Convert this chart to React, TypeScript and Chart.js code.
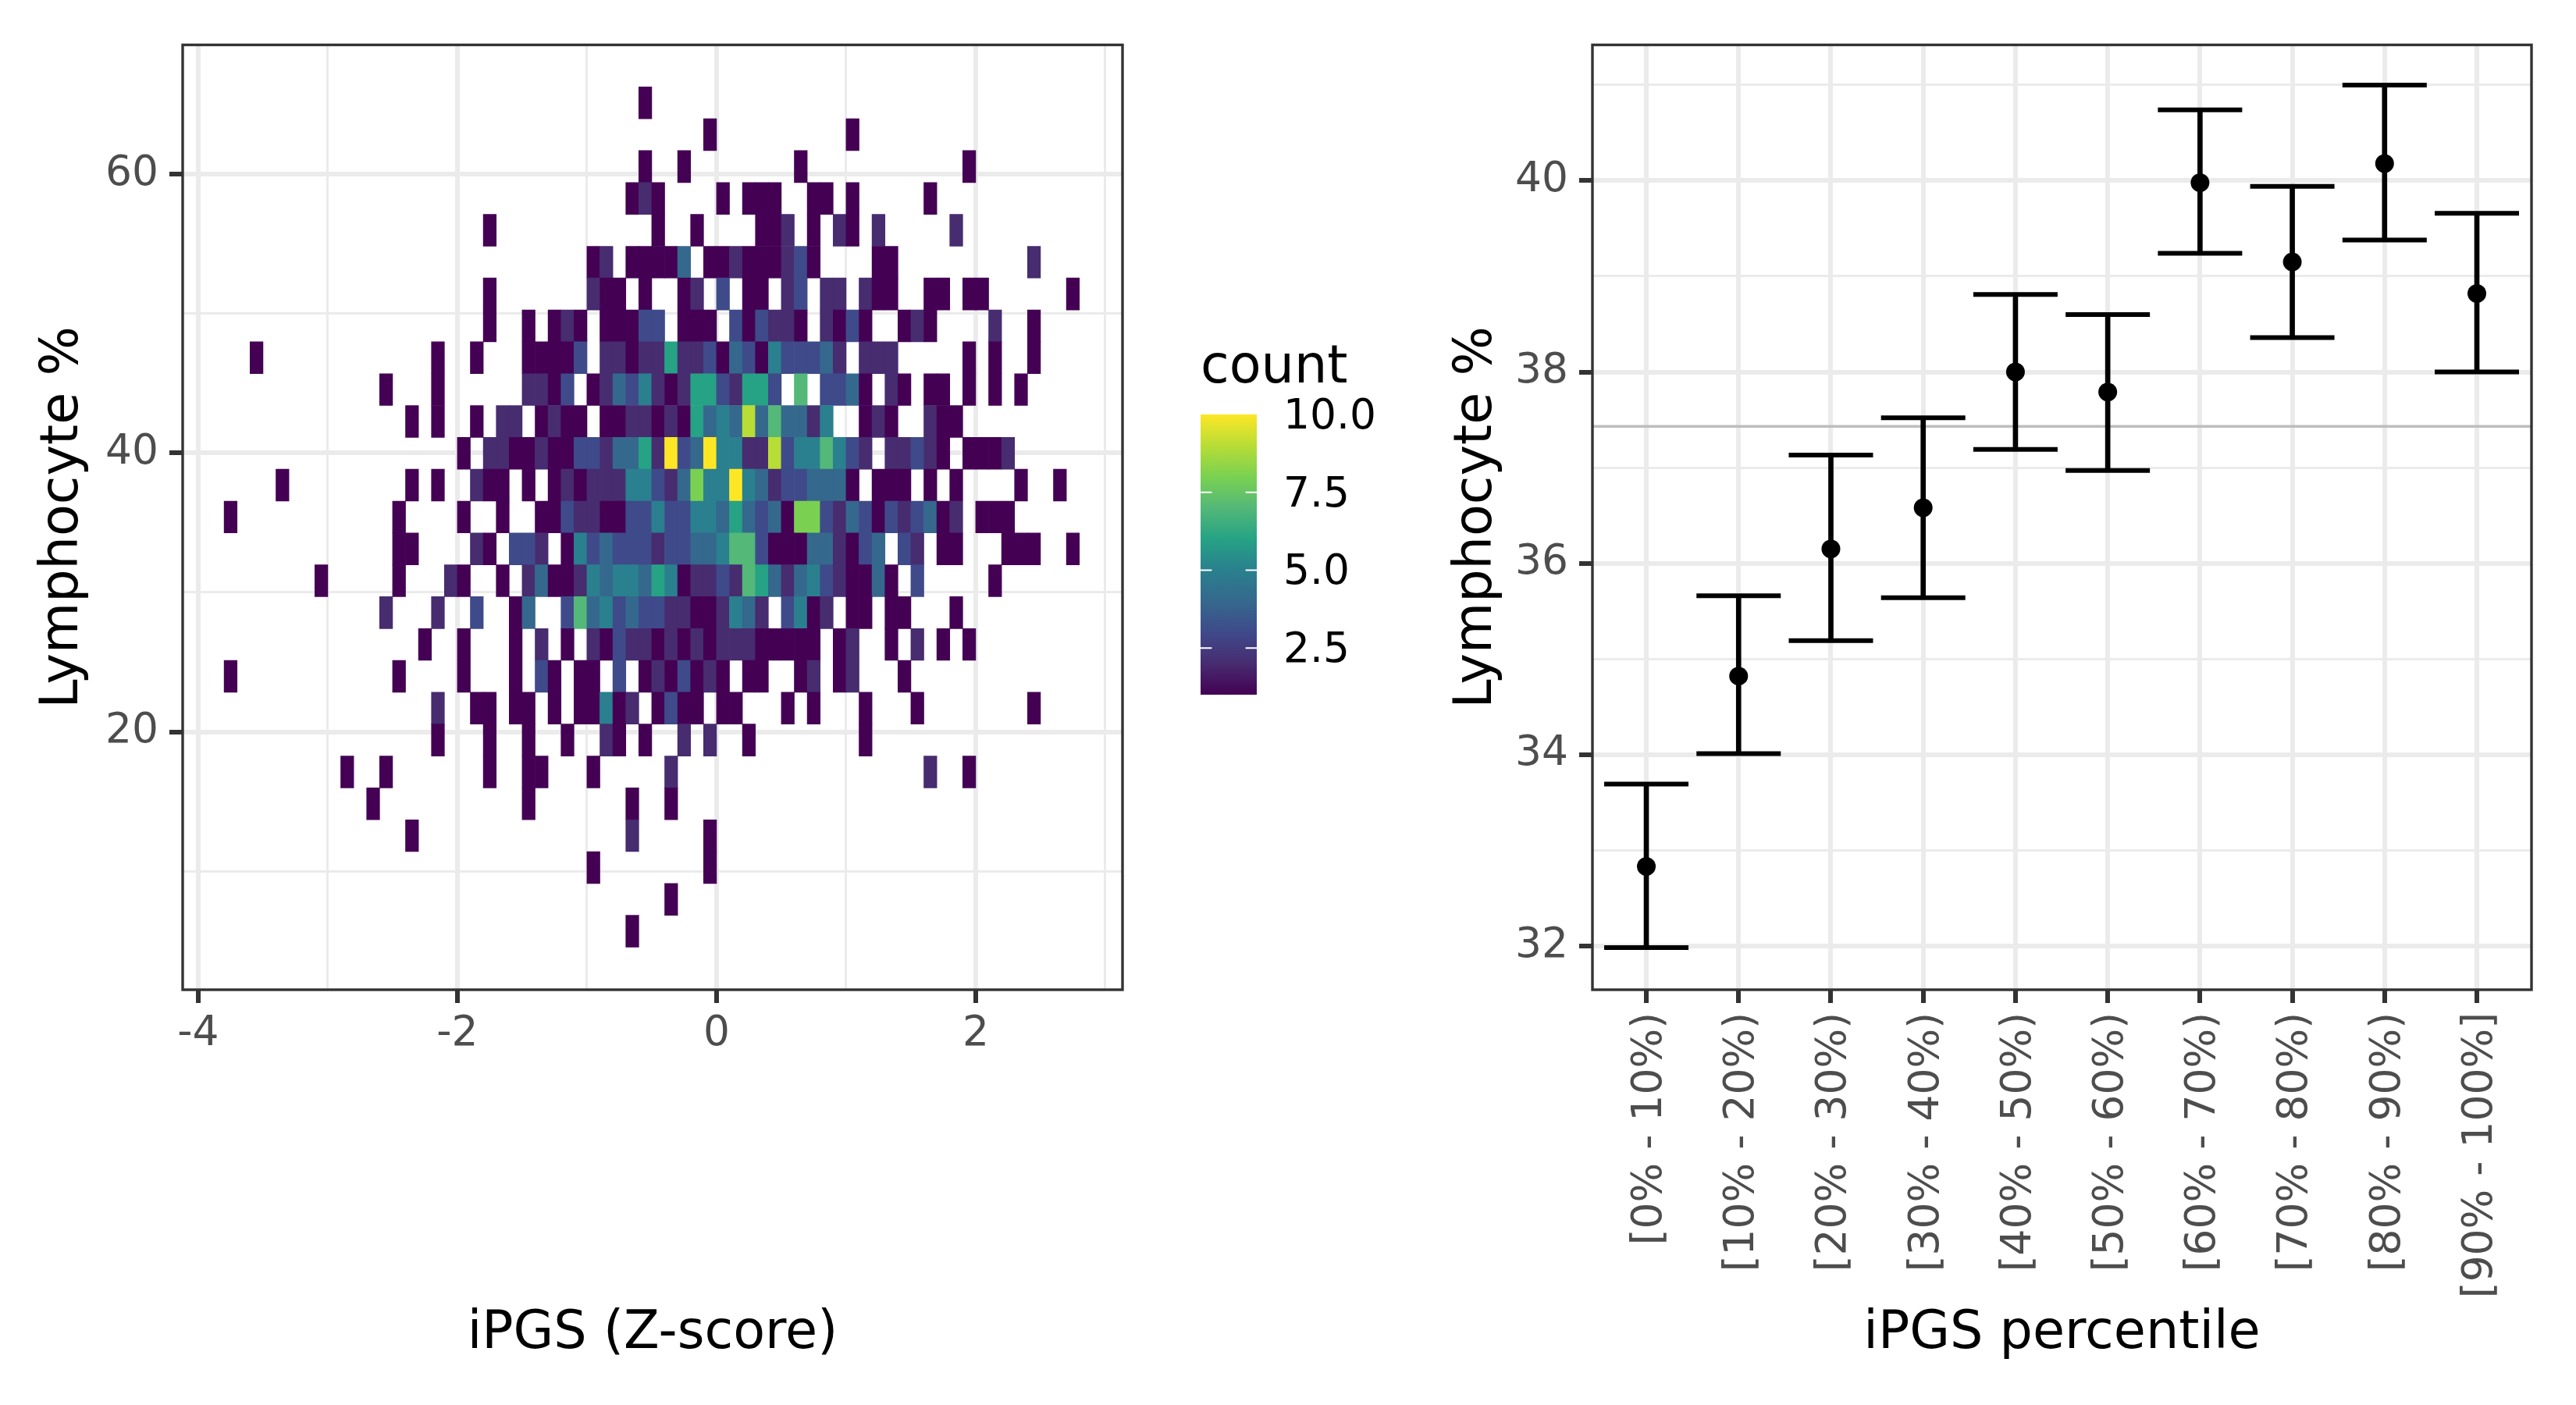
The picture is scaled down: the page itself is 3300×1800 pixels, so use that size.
import React, { useEffect, useRef } from "react";
import { Chart, registerables } from "chart.js";

Chart.register(...registerables);

const FONT = "'DejaVu Sans'";
const TITLE_SIZE = 66.8;
const TICK_SIZE = 53.4;

// ---------- Left panel data ----------
// Bin edges on the Lymphocyte % axis, top to bottom
const yBinEdges = [66.25, 63.96, 61.68, 59.39, 57.11, 54.82, 52.54, 50.25, 47.97, 45.68, 43.4, 41.11, 38.83, 36.54, 34.26, 31.97, 29.69, 27.4, 25.12, 22.83, 20.55, 18.26, 15.98, 13.69, 11.41, 9.12, 6.84, 4.55];
// Each row: [x bin in tenths of a Z-score, count]
const heatRows: number[][][] = [
  [[-6,1]],
  [[-1,1],[10,1]],
  [[-6,1],[-3,1],[6,1],[19,1]],
  [[-7,1],[-6,2],[-5,1],[0,1],[2,1],[3,1],[4,1],[7,1],[8,1],[10,1],[16,1]],
  [[-18,1],[-5,1],[-2,1],[3,1],[4,1],[5,2],[7,1],[9,2],[10,1],[12,2],[18,2]],
  [[-10,1],[-9,2],[-7,1],[-6,1],[-5,1],[-4,1],[-3,4],[-1,1],[0,1],[1,2],[2,1],[3,1],[4,1],[5,2],[6,3],[7,1],[12,1],[13,1],[24,2]],
  [[-18,1],[-10,2],[-9,1],[-8,1],[-6,1],[-3,1],[-2,2],[0,3],[2,1],[3,1],[5,2],[6,3],[8,2],[9,2],[11,2],[12,1],[13,1],[16,1],[17,1],[19,1],[20,1],[27,1]],
  [[-18,1],[-15,1],[-13,1],[-12,2],[-11,1],[-9,1],[-8,1],[-7,1],[-6,3],[-5,3],[-3,1],[-2,1],[-1,1],[1,3],[2,1],[3,3],[4,2],[5,2],[6,1],[8,2],[9,1],[10,3],[11,1],[14,1],[15,2],[16,1],[21,2],[24,1]],
  [[-36,1],[-22,1],[-19,1],[-15,1],[-14,1],[-13,1],[-12,1],[-11,3],[-9,2],[-8,2],[-7,1],[-6,2],[-5,2],[-4,6],[-3,2],[-2,2],[-1,3],[0,1],[1,4],[2,3],[3,1],[4,5],[5,3],[6,3],[7,3],[8,4],[9,2],[11,2],[12,2],[13,2],[19,1],[21,1],[24,1]],
  [[-26,1],[-22,1],[-15,2],[-14,2],[-13,1],[-12,3],[-10,1],[-9,2],[-8,4],[-7,3],[-6,5],[-5,2],[-4,1],[-3,2],[-2,6],[-1,6],[0,3],[1,2],[2,6],[3,6],[4,3],[6,7],[8,3],[9,3],[10,4],[11,1],[13,2],[14,1],[16,1],[17,1],[19,1],[21,1],[23,1]],
  [[-24,1],[-22,1],[-19,1],[-17,2],[-16,2],[-14,1],[-13,2],[-12,1],[-11,1],[-9,1],[-8,1],[-7,2],[-6,2],[-5,1],[-4,2],[-3,1],[-2,6],[-1,4],[0,5],[1,4],[2,9],[3,4],[4,7],[5,4],[6,4],[7,2],[8,5],[11,1],[12,2],[13,1],[16,2],[17,1],[18,1]],
  [[-20,1],[-18,2],[-17,2],[-16,1],[-15,1],[-14,2],[-13,1],[-12,1],[-11,3],[-10,3],[-9,2],[-8,4],[-7,4],[-6,6],[-5,2],[-4,10],[-3,3],[-2,4],[-1,10],[0,5],[1,5],[2,2],[3,2],[4,9],[5,3],[6,5],[7,5],[8,7],[9,5],[10,3],[11,2],[13,2],[14,2],[15,3],[16,2],[17,1],[19,1],[20,1],[21,1],[22,2]],
  [[-34,1],[-24,1],[-22,1],[-19,2],[-18,1],[-17,1],[-15,1],[-13,1],[-12,2],[-11,1],[-10,2],[-9,2],[-8,2],[-7,5],[-6,5],[-5,3],[-4,2],[-3,4],[-2,8],[-1,5],[0,5],[1,10],[2,5],[3,4],[4,2],[5,3],[6,3],[7,4],[8,4],[9,4],[10,1],[12,1],[13,1],[14,1],[16,1],[18,1],[23,1],[26,1]],
  [[-38,1],[-25,1],[-20,1],[-17,1],[-14,1],[-13,1],[-12,3],[-11,2],[-10,2],[-9,1],[-8,1],[-7,3],[-6,3],[-5,5],[-4,3],[-3,3],[-2,5],[-1,5],[0,4],[1,6],[2,4],[3,3],[4,4],[5,1],[6,8],[7,8],[8,3],[9,2],[10,4],[11,3],[12,1],[13,3],[14,2],[15,3],[16,4],[17,1],[18,2],[20,1],[21,1],[22,1]],
  [[-25,1],[-24,1],[-19,2],[-18,1],[-16,3],[-15,3],[-14,2],[-12,1],[-11,5],[-10,3],[-9,4],[-8,3],[-7,3],[-6,3],[-5,2],[-4,3],[-3,3],[-2,4],[-1,4],[0,5],[1,7],[2,7],[3,3],[4,1],[5,1],[6,1],[7,4],[8,4],[9,2],[10,1],[11,3],[12,4],[14,3],[15,2],[17,1],[18,1],[22,1],[23,1],[24,1],[27,1]],
  [[-31,1],[-25,1],[-21,2],[-20,1],[-17,1],[-15,2],[-14,4],[-13,1],[-12,1],[-11,2],[-10,5],[-9,4],[-8,5],[-7,5],[-6,4],[-5,6],[-4,5],[-3,1],[-2,2],[-1,2],[0,3],[1,2],[2,7],[3,6],[4,4],[5,2],[6,4],[7,5],[8,3],[9,2],[10,1],[11,1],[12,4],[13,1],[15,3],[21,1]],
  [[-26,2],[-22,2],[-19,3],[-16,1],[-15,4],[-12,3],[-11,7],[-10,4],[-9,5],[-8,3],[-7,4],[-6,3],[-5,3],[-4,2],[-3,2],[-2,1],[-1,1],[0,2],[1,5],[2,4],[3,2],[5,3],[6,5],[7,1],[8,2],[10,1],[11,1],[13,1],[14,1],[18,1]],
  [[-23,1],[-20,1],[-16,1],[-14,2],[-12,1],[-10,2],[-9,1],[-8,3],[-7,2],[-6,2],[-5,1],[-4,2],[-3,1],[-2,2],[-1,1],[0,2],[1,2],[2,2],[3,1],[4,1],[5,1],[6,1],[7,1],[9,1],[10,2],[13,1],[15,2],[17,1],[19,1]],
  [[-38,1],[-25,1],[-20,1],[-16,1],[-14,3],[-13,1],[-11,1],[-10,1],[-8,3],[-6,1],[-5,2],[-4,1],[-3,3],[-2,1],[-1,2],[0,1],[2,1],[3,1],[6,1],[7,2],[9,1],[10,2],[14,1]],
  [[-22,2],[-19,1],[-18,1],[-16,1],[-15,1],[-13,1],[-11,1],[-10,1],[-9,5],[-8,1],[-7,2],[-5,1],[-4,3],[-3,1],[-2,1],[0,1],[1,1],[5,1],[7,1],[11,1],[15,1],[24,1]],
  [[-22,1],[-18,1],[-15,1],[-12,1],[-9,2],[-8,1],[-6,1],[-3,2],[-1,2],[2,1],[11,1]],
  [[-29,1],[-26,1],[-18,1],[-15,1],[-14,1],[-10,1],[-4,2],[16,2],[19,1]],
  [[-27,1],[-15,1],[-7,1],[-4,1]],
  [[-24,1],[-7,2],[-1,1]],
  [[-10,1],[-1,1]],
  [[-4,1]],
  [[-7,1]],
];
const countColors = ["#440154", "#472C70", "#3F4A8A", "#35688D", "#2A808E", "#26A285", "#53B878", "#7AD151", "#B8DD36", "#FDE725"];
const leftXTicks = [-4, -3, -2, -1, 0, 1, 2, 3];
const leftXMajor = [-4, -2, 0, 2];
const leftYTicks = [10, 20, 30, 40, 50, 60];
const leftYMajor = [20, 40, 60];
const legendTitle = "count";
const legendTicks = [2.5, 5, 7.5, 10];
const legendLabels = ["2.5", "5.0", "7.5", "10.0"];

// ---------- Right panel data ----------
const percentileBins = ["[0% - 10%)", "[10% - 20%)", "[20% - 30%)", "[30% - 40%)", "[40% - 50%)", "[50% - 60%)", "[60% - 70%)", "[70% - 80%)", "[80% - 90%)", "[90% - 100%]"];
const meanValues = [32.83, 34.82, 36.15, 36.58, 38.0, 37.79, 39.98, 39.15, 40.18, 38.82];
const lowerValues = [31.98, 34.01, 35.19, 35.64, 37.19, 36.97, 39.24, 38.36, 39.38, 38.0];
const upperValues = [33.69, 35.66, 37.13, 37.52, 38.81, 38.6, 40.74, 39.94, 41.0, 39.66];
const referenceLine = 37.43;
const rightYTicks = [32, 33, 34, 35, 36, 37, 38, 39, 40, 41];
const rightYMajor = [32, 34, 36, 38, 40];

const LEFT_W = 1850;
const RIGHT_X = 1850;
const RIGHT_W = 3300 - RIGHT_X;
const H = 1800;
const PANEL_TOP = 57.5;
const PANEL_BOTTOM = 1268;

const GRID = "#EBEBEB";
const INK = "#333333";
const TICK_TEXT = "#4D4D4D";

const panelBorder = {
  id: "panelBorder",
  afterDatasetsDraw(chart: any) {
    const { ctx, chartArea: a } = chart;
    ctx.save();
    ctx.strokeStyle = INK;
    ctx.lineWidth = 3.4;
    ctx.strokeRect(a.left, a.top, a.right - a.left, a.bottom - a.top);
    ctx.restore();
  },
};

const colorBar = {
  id: "colorBar",
  afterDraw(chart: any) {
    const { ctx } = chart;
    const x0 = 1538, x1 = 1610, yLow = 890, yHigh = 531;
    const yFor = (v: number) => yLow + ((v - 1) / 9) * (yHigh - yLow);
    ctx.save();
    const g = ctx.createLinearGradient(0, yLow, 0, yHigh);
    countColors.forEach((c, i) => g.addColorStop(i / (countColors.length - 1), c));
    ctx.fillStyle = g;
    ctx.fillRect(x0, yHigh, x1 - x0, yLow - yHigh);
    ctx.fillStyle = "#000000";
    ctx.font = `${TITLE_SIZE}px ${FONT}`;
    ctx.textAlign = "left";
    ctx.textBaseline = "alphabetic";
    ctx.fillText(legendTitle, 1538, 490);
    ctx.font = `${TICK_SIZE}px ${FONT}`;
    ctx.textBaseline = "middle";
    ctx.strokeStyle = "#FFFFFF";
    ctx.lineWidth = 2;
    legendTicks.forEach((v, i) => {
      const y = yFor(v);
      ctx.fillStyle = "#000000";
      ctx.fillText(legendLabels[i], 1644, y + 4);
      if (v < 10) {
        ctx.beginPath();
        ctx.moveTo(x0, y); ctx.lineTo(x0 + 14.4, y);
        ctx.moveTo(x1 - 14.4, y); ctx.lineTo(x1, y);
        ctx.stroke();
      }
    });
    ctx.restore();
  },
};

function axisGrid(major: number[]) {
  return {
    color: GRID,
    lineWidth: (c: any) => (major.includes(c.tick?.value) ? 6 : 3),
    tickLength: 17,
    tickWidth: 6,
    tickColor: (c: any) => (major.includes(c.tick?.value) ? INK : "rgba(0,0,0,0)"),
    offset: false,
    drawTicks: true,
  };
}

export default function App() {
  const leftRef = useRef<HTMLCanvasElement>(null);
  const rightRef = useRef<HTMLCanvasElement>(null);

  useEffect(() => {
    document.body.style.margin = "0";
    Chart.defaults.font.family = FONT;

    const cells: any[] = [];
    const cellColors: string[] = [];
    heatRows.forEach((row, r) => {
      row.forEach(([c, n]) => {
        cells.push({ x: (c + 0.5) / 10, y: [yBinEdges[r + 1], yBinEdges[r]] });
        cellColors.push(countColors[n - 1]);
      });
    });

    const left = new Chart(leftRef.current!, {
      type: "bar",
      data: {
        datasets: [
          {
            data: cells,
            backgroundColor: cellColors,
            borderWidth: 0,
            categoryPercentage: 1,
            barPercentage: 1,
            grouped: false,
          } as any,
        ],
      },
      options: {
        responsive: false,
        animation: false,
        layout: { autoPadding: false, padding: { top: PANEL_TOP, right: LEFT_W - 1438, left: 0, bottom: 0 } },
        plugins: { legend: { display: false }, tooltip: { enabled: false } },
        scales: {
          x: {
            type: "linear",
            min: -4.12,
            max: 3.133,
            offset: false,
            afterBuildTicks: (s: any) => { s.ticks = leftXTicks.map((value) => ({ value })); },
            afterFit: (s: any) => { s.height = H - PANEL_BOTTOM; },
            grid: axisGrid(leftXMajor),
            border: { display: false },
            ticks: {
              autoSkip: false, maxRotation: 0, minRotation: 0, padding: 8, color: TICK_TEXT,
              font: { size: TICK_SIZE },
              callback: (v: any) => (leftXMajor.includes(v) ? String(v) : ""),
            },
            title: { display: true, text: "iPGS (Z-score)", color: "#000000", font: { size: TITLE_SIZE }, padding: { top: 0, bottom: 50 } },
          },
          y: {
            type: "linear",
            min: 1.5,
            max: 69.26,
            afterBuildTicks: (s: any) => { s.ticks = leftYTicks.map((value) => ({ value })); },
            afterFit: (s: any) => { s.width = 234; },
            grid: axisGrid(leftYMajor),
            border: { display: false },
            ticks: {
              autoSkip: false, padding: 14, color: TICK_TEXT,
              font: { size: TICK_SIZE },
              callback: (v: any) => (leftYMajor.includes(v) ? String(v) : ""),
            },
            title: { display: true, text: "Lymphocyte %", color: "#000000", font: { size: TITLE_SIZE }, padding: { top: 42, bottom: 0 } },
          },
        },
      } as any,
      plugins: [panelBorder, colorBar],
    });

    const right = new Chart(rightRef.current!, {
      type: "bar",
      data: {
        datasets: [
          {
            type: "line",
            data: [{ x: 0.416, y: referenceLine }, { x: 10.592, y: referenceLine }],
            borderColor: "#BEBEBE",
            borderWidth: 3.5,
            pointRadius: 0,
            order: 4,
          },
          {
            type: "bar",
            data: percentileBins.map((_, i) => ({ x: i + 1, y: [lowerValues[i], upperValues[i]] })),
            backgroundColor: "#000000",
            borderWidth: 0,
            barThickness: 6,
            order: 3,
          },
          {
            type: "scatter",
            data: percentileBins.map((_, i) => ({ x: i + 1, y: upperValues[i] })),
            pointStyle: "line",
            pointRadius: 54,
            borderColor: "#000000",
            pointBorderColor: "#000000",
            pointBorderWidth: 6,
            order: 2,
          },
          {
            type: "scatter",
            data: percentileBins.map((_, i) => ({ x: i + 1, y: lowerValues[i] })),
            pointStyle: "line",
            pointRadius: 54,
            borderColor: "#000000",
            pointBorderColor: "#000000",
            pointBorderWidth: 6,
            order: 2,
          },
          {
            type: "scatter",
            data: percentileBins.map((_, i) => ({ x: i + 1, y: meanValues[i] })),
            pointStyle: "circle",
            pointRadius: 12,
            pointBackgroundColor: "#000000",
            pointBorderWidth: 0,
            order: 1,
          },
        ] as any,
      },
      options: {
        responsive: false,
        animation: false,
        layout: { autoPadding: false, padding: { top: PANEL_TOP, right: RIGHT_W - (3243 - RIGHT_X), left: 0, bottom: 0 } },
        plugins: { legend: { display: false }, tooltip: { enabled: false } },
        scales: {
          x: {
            type: "linear",
            min: 0.416,
            max: 10.592,
            offset: false,
            afterBuildTicks: (s: any) => { s.ticks = percentileBins.map((_, i) => ({ value: i + 1 })); },
            afterFit: (s: any) => { s.height = H - PANEL_BOTTOM; },
            grid: axisGrid(percentileBins.map((_, i) => i + 1)),
            border: { display: false },
            ticks: {
              autoSkip: false, maxRotation: 90, minRotation: 90, padding: 12, labelOffset: 5, color: TICK_TEXT,
              font: { size: TICK_SIZE },
              callback: (v: any) => percentileBins[v - 1],
            },
            title: { display: true, text: "iPGS percentile", color: "#000000", font: { size: TITLE_SIZE }, padding: { top: 0, bottom: 50 } },
          },
          y: {
            type: "linear",
            min: 31.54,
            max: 41.42,
            afterBuildTicks: (s: any) => { s.ticks = rightYTicks.map((value) => ({ value })); },
            afterFit: (s: any) => { s.width = 2040 - RIGHT_X; },
            grid: axisGrid(rightYMajor),
            border: { display: false },
            ticks: {
              autoSkip: false, padding: 14, color: TICK_TEXT,
              font: { size: TICK_SIZE },
              callback: (v: any) => (rightYMajor.includes(v) ? String(v) : ""),
            },
            title: { display: true, text: "Lymphocyte %", color: "#000000", font: { size: TITLE_SIZE }, padding: { top: 3, bottom: 0 } },
          },
        },
      } as any,
      plugins: [panelBorder],
    });

    return () => {
      left.destroy();
      right.destroy();
    };
  }, []);

  return (
    <div style={{ position: "absolute", left: 0, top: 0, width: 3300, height: H, background: "#FFFFFF" }}>
      <canvas ref={leftRef} width={LEFT_W} height={H} style={{ position: "absolute", left: 0, top: 0 }} />
      <canvas ref={rightRef} width={RIGHT_W} height={H} style={{ position: "absolute", left: RIGHT_X, top: 0 }} />
    </div>
  );
}
